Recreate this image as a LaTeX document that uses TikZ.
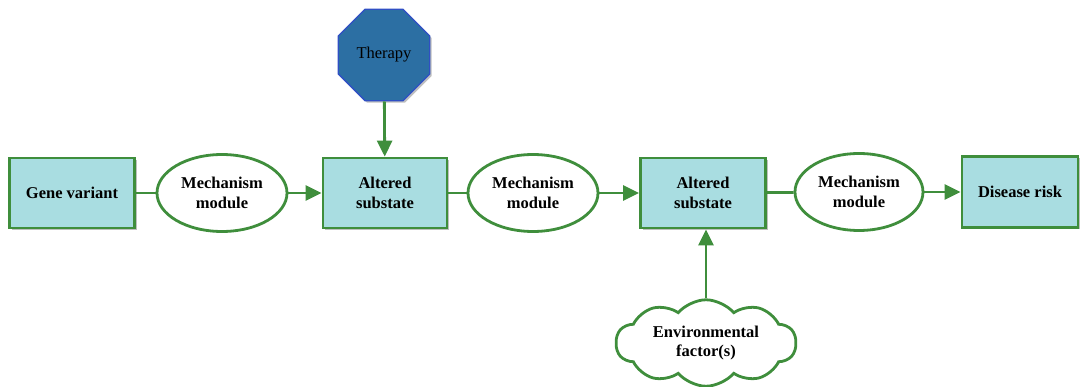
\documentclass[tikz,border=0pt]{standalone}
\usepackage{fontspec}
\setmainfont{Liberation Serif}
\usetikzlibrary{shapes.geometric,shapes.symbols,arrows.meta,shadows}
\definecolor{boxfill}{HTML}{A9DDE1}
\definecolor{gline}{HTML}{3F8E3C}
\definecolor{octfill}{HTML}{2C6FA3}
\definecolor{octline}{HTML}{2F4FC4}
\tikzset{
  sbox/.style={draw=gline, line width=2.8pt, fill=boxfill, font=\fontsize{16.5}{19.5}\selectfont\bfseries, align=center, inner sep=0pt,
    drop shadow={shadow xshift=2pt, shadow yshift=-2pt, fill=black, opacity=0.25}},
  mech/.style={ellipse, draw=gline, line width=2.8pt, fill=white, minimum width=130pt, minimum height=77pt, inner sep=0pt, align=center, font=\fontsize{16.5}{19.5}\selectfont\bfseries},
  conn/.style={draw=gline, line width=2.8pt},
  arr/.style={conn, -{Triangle[length=16pt,width=15pt]}},
}
\begin{document}
\begin{tikzpicture}[x=1pt,y=1pt]
\useasboundingbox (0,0) rectangle (1080,386);
\node[sbox, minimum width=125pt, minimum height=70pt] (gv) at (72,193) {Gene variant};
\node[mech] (m1) at (222,193) {Mechanism\\module};
\node[sbox, minimum width=124pt, minimum height=70pt] (a1) at (385,193) {Altered\\substate};
\node[regular polygon, regular polygon sides=8, minimum size=99pt, inner sep=0pt, draw=octline, line width=1.3pt, fill=octfill,
  font=\fontsize{16.5}{19.5}\selectfont, drop shadow={shadow xshift=2pt, shadow yshift=-2pt, fill=black, opacity=0.25}] (th) at (384,331) {Therapy};
\node[mech] (m2) at (533,193) {Mechanism\\module};
\node[sbox, minimum width=125pt, minimum height=70pt] (a2) at (703,193) {Altered\\substate};
\node[mech, minimum width=128pt] (m3) at (859,194) {Mechanism\\module};
\node[sbox, minimum width=116pt, minimum height=71pt] (dr) at (1020,194) {Disease risk};
\node[cloud, cloud puffs=10, cloud puff arc=100, aspect=2.2, draw=gline, line width=2.8pt, fill=white, minimum width=180pt, minimum height=82pt,
  inner sep=0pt, align=center, font=\fontsize{16.5}{19.5}\selectfont\bfseries] (env) at (706,43) {Environmental\\factor(s)};
\draw[conn] (gv) -- (m1);
\draw[arr] (m1) -- (a1);
\draw[conn] (a1) -- (m2);
\draw[arr] (m2) -- (a2);
\draw[conn] (a2) -- (m3);
\draw[arr] (m3) -- (dr);
\draw[arr] (th) -- (a1);
\draw[arr] (env.north) -- (env.north |- a2.south);
\end{tikzpicture}
\end{document}
